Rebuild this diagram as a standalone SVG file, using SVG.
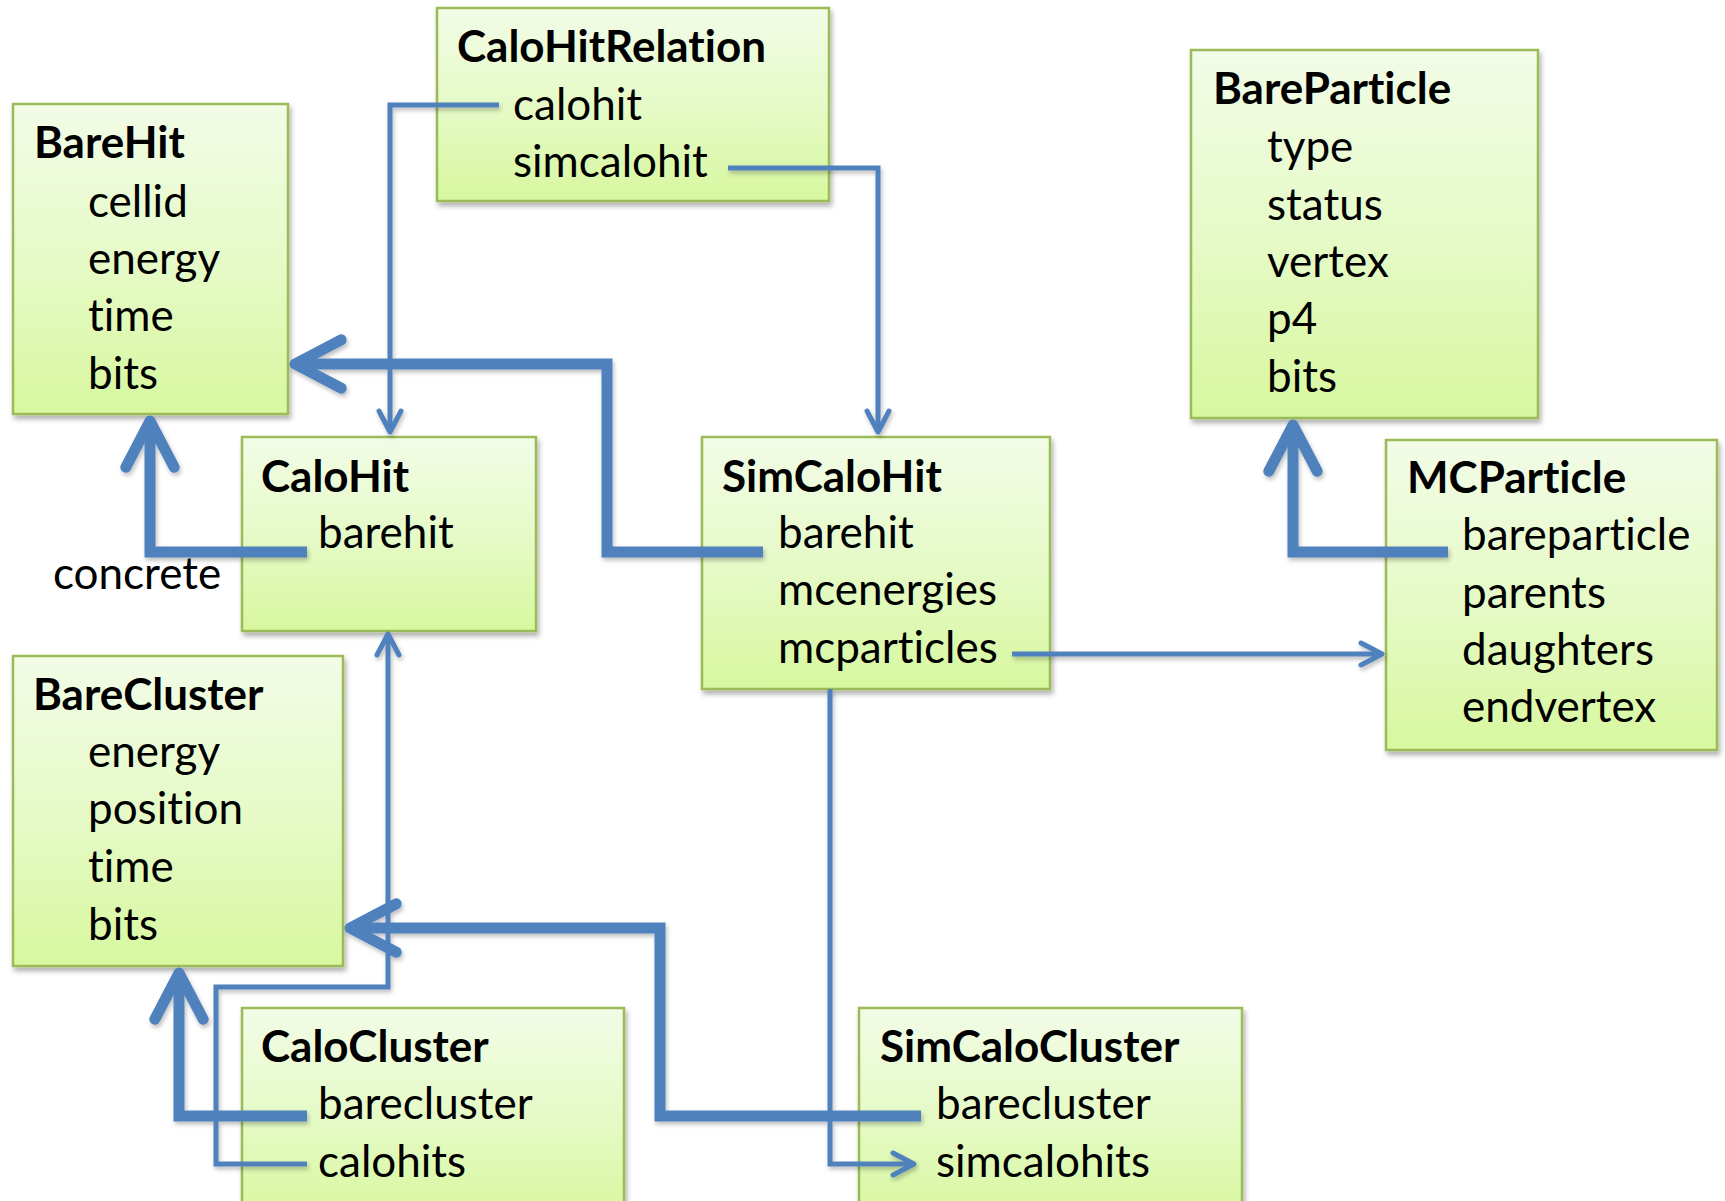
<svg xmlns="http://www.w3.org/2000/svg" width="1725" height="1201" viewBox="0 0 1725 1201">
  <style>
    .box { fill: url(#boxFill); stroke: #9BBB59; stroke-width: 2.5; filter: url(#shadow); }
    .title, .item { font-family: Lato, "Liberation Sans", sans-serif; font-size: 44px; fill: #000;
                    font-variant-ligatures: none; font-feature-settings: "liga" 0, "clig" 0; }
    .title { font-weight: bold; }
    .thin { fill: none; stroke: #4F81BD; stroke-width: 5; stroke-linejoin: miter; marker-end: url(#arrow); }
    .thick { fill: none; stroke: #4F81BD; stroke-width: 11; stroke-linejoin: miter; marker-end: url(#arrow); }
  </style>
  <defs>
    <linearGradient id="boxFill" x1="0" y1="0" x2="0" y2="1">
      <stop offset="0" stop-color="#F2FCE7"/>
      <stop offset="0.5" stop-color="#E6FAC8"/>
      <stop offset="1" stop-color="#D7F89F"/>
    </linearGradient>
    <filter id="shadow" x="-10%" y="-10%" width="130%" height="130%">
      <feDropShadow dx="2" dy="4" stdDeviation="2.5" flood-color="#000" flood-opacity="0.3"/>
    </filter>
    <filter id="lineShadow" x="-5%" y="-5%" width="110%" height="110%">
      <feDropShadow dx="1.5" dy="3" stdDeviation="2" flood-color="#000" flood-opacity="0.25"/>
    </filter>
    <!-- open chevron arrowhead, scaled by the line's stroke width -->
    <marker id="arrow" viewBox="-6 -4 8 8" refX="0" refY="0" markerWidth="8" markerHeight="8"
            orient="auto" markerUnits="strokeWidth" overflow="visible">
      <path d="M-4.2,-2.2 L0,0 L-4.2,2.2" fill="none" stroke="#4F81BD" stroke-width="1"
            stroke-linecap="round" stroke-linejoin="round"/>
    </marker>
  </defs>

  <rect width="1725" height="1201" fill="#FFFFFF"/>

  <!-- classes -->
  <g id="node-CaloHitRelation">
    <rect class="box" x="437" y="8" width="392" height="193"/>
    <text class="title" x="457" y="62">CaloHitRelation</text>
    <text class="item" x="513" y="120">calohit</text>
    <text class="item" x="513" y="177">simcalohit</text>
  </g>

  <g id="node-BareHit">
    <rect class="box" x="13" y="104" width="275" height="310"/>
    <text class="title" x="34" y="158">BareHit</text>
    <text class="item" x="88" y="217">cellid</text>
    <text class="item" x="88" y="274">energy</text>
    <text class="item" x="88" y="331">time</text>
    <text class="item" x="88" y="389">bits</text>
  </g>

  <g id="node-BareParticle">
    <rect class="box" x="1191" y="50" width="347" height="368"/>
    <text class="title" x="1213" y="104">BareParticle</text>
    <text class="item" x="1267" y="162">type</text>
    <text class="item" x="1267" y="220">status</text>
    <text class="item" x="1267" y="277">vertex</text>
    <text class="item" x="1267" y="334">p4</text>
    <text class="item" x="1267" y="392">bits</text>
  </g>

  <g id="node-CaloHit">
    <rect class="box" x="242" y="437" width="294" height="194"/>
    <text class="title" x="261" y="492">CaloHit</text>
    <text class="item" x="318" y="548">barehit</text>
  </g>

  <g id="node-SimCaloHit">
    <rect class="box" x="702" y="437" width="348" height="252"/>
    <text class="title" x="722" y="492">SimCaloHit</text>
    <text class="item" x="778" y="548">barehit</text>
    <text class="item" x="778" y="605">mcenergies</text>
    <text class="item" x="778" y="663">mcparticles</text>
  </g>

  <g id="node-MCParticle">
    <rect class="box" x="1386" y="440" width="331" height="310"/>
    <text class="title" x="1407" y="493">MCParticle</text>
    <text class="item" x="1462" y="550">bareparticle</text>
    <text class="item" x="1462" y="608">parents</text>
    <text class="item" x="1462" y="665">daughters</text>
    <text class="item" x="1462" y="722">endvertex</text>
  </g>

  <g id="node-BareCluster">
    <rect class="box" x="13" y="656" width="330" height="310"/>
    <text class="title" x="33" y="710">BareCluster</text>
    <text class="item" x="88" y="767">energy</text>
    <text class="item" x="88" y="824">position</text>
    <text class="item" x="88" y="882">time</text>
    <text class="item" x="88" y="940">bits</text>
  </g>

  <g id="node-CaloCluster">
    <rect class="box" x="242" y="1008" width="382" height="210"/>
    <text class="title" x="261" y="1062">CaloCluster</text>
    <text class="item" x="318" y="1119">barecluster</text>
    <text class="item" x="318" y="1177">calohits</text>
  </g>

  <g id="node-SimCaloCluster">
    <rect class="box" x="859" y="1008" width="383" height="210"/>
    <text class="title" x="880" y="1062">SimCaloCluster</text>
    <text class="item" x="936" y="1119">barecluster</text>
    <text class="item" x="936" y="1177">simcalohits</text>
  </g>

  <!-- label on the CaloHit inheritance link -->
  <text class="item" x="53" y="589">concrete</text>

  <!-- references between classes -->
  <g id="connectors" filter="url(#lineShadow)">
    <path class="thin" d="M499,105 H390 V432"/>
    <path class="thin" d="M728,168 H878 V432"/>
    <path class="thick" d="M763,552 H607 V364 H295"/>
    <path class="thick" d="M307,552 H150 V421"/>
    <path class="thin" d="M1012,654 H1382"/>
    <path class="thick" d="M1448,552 H1293 V425"/>
    <path class="thick" d="M921,1116 H660 V928 H350"/>
    <path class="thick" d="M307,1116 H179 V973"/>
    <path class="thin" d="M307,1164 H216 V987 H388 V634"/>
    <path class="thin" d="M830,689 V1164 H914"/>
  </g>
</svg>
